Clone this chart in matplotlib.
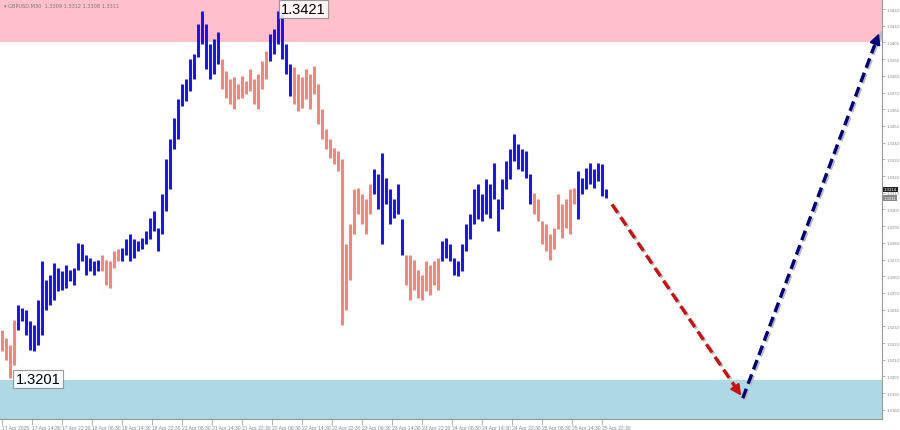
import numpy as np
import matplotlib
matplotlib.use("Agg")
import matplotlib.pyplot as plt

plt.rcParams["font.family"] = ["Liberation Sans", "DejaVu Sans"]

# Bar data (GBPUSD, one bar per slot, prices)
highs = [1.3230, 1.3225, 1.3221, 1.3236, 1.3245, 1.3243, 1.3242, 1.3235, 1.3233, 1.3248,
         1.3271, 1.3260, 1.3263, 1.3270, 1.3267, 1.3265, 1.3269, 1.3266, 1.3267, 1.3282,
         1.3281, 1.3275, 1.3273, 1.3271, 1.3272, 1.3275, 1.3272, 1.3271, 1.3277, 1.3278,
         1.3279, 1.3284, 1.3287, 1.3284, 1.3283, 1.3285, 1.3289, 1.3297, 1.3301, 1.3291,
         1.3311, 1.3332, 1.3344, 1.3357, 1.3368, 1.3377, 1.3380, 1.3392, 1.3395, 1.3413,
         1.3421, 1.3413, 1.3401, 1.3404, 1.3408, 1.3392, 1.3385, 1.3380, 1.3381, 1.3377,
         1.3382, 1.3379, 1.3386, 1.3380, 1.3383, 1.3391, 1.3397, 1.3407, 1.3410, 1.3421,
         1.3419, 1.3401, 1.3389, 1.3387, 1.3383, 1.3381, 1.3386, 1.3383, 1.3388, 1.3377,
         1.3362, 1.3350, 1.3344, 1.3339, 1.3337, 1.3332, 1.3281, 1.3293, 1.3314, 1.3315,
         1.3311, 1.3308, 1.3317, 1.3326, 1.3323, 1.3336, 1.3321, 1.3314, 1.3308, 1.3317,
         1.3296, 1.3275, 1.3275, 1.3272, 1.3266, 1.3263, 1.3271, 1.3269, 1.3271, 1.3273,
         1.3283, 1.3285, 1.3281, 1.3273, 1.3271, 1.3281, 1.3293, 1.3299, 1.3314, 1.3317,
         1.3311, 1.3320, 1.3317, 1.3330, 1.3308, 1.3320, 1.3331, 1.3338, 1.3347, 1.3341,
         1.3338, 1.3337, 1.3323, 1.3312, 1.3308, 1.3295, 1.3293, 1.3287, 1.3291, 1.3311,
         1.3305, 1.3308, 1.3314, 1.3315, 1.3325, 1.3321, 1.3327, 1.3330, 1.3326, 1.3330,
         1.3329, 1.3314]
lows = [1.3217, 1.3212, 1.3201, 1.3209, 1.3230, 1.3235, 1.3227, 1.3218, 1.3217, 1.3221,
        1.3227, 1.3242, 1.3245, 1.3248, 1.3253, 1.3254, 1.3255, 1.3259, 1.3257, 1.3266,
        1.3271, 1.3263, 1.3265, 1.3263, 1.3265, 1.3265, 1.3257, 1.3255, 1.3267, 1.3271,
        1.3271, 1.3275, 1.3271, 1.3273, 1.3277, 1.3278, 1.3281, 1.3284, 1.3289, 1.3277,
        1.3287, 1.3301, 1.3314, 1.3338, 1.3344, 1.3364, 1.3367, 1.3373, 1.3380, 1.3393,
        1.3401, 1.3386, 1.3380, 1.3383, 1.3389, 1.3374, 1.3369, 1.3365, 1.3362, 1.3368,
        1.3369, 1.3371, 1.3373, 1.3365, 1.3362, 1.3374, 1.3380, 1.3391, 1.3395, 1.3401,
        1.3392, 1.3383, 1.3370, 1.3365, 1.3361, 1.3363, 1.3368, 1.3362, 1.3371, 1.3353,
        1.3344, 1.3338, 1.3333, 1.3329, 1.3325, 1.3233, 1.3242, 1.3260, 1.3287, 1.3299,
        1.3293, 1.3287, 1.3299, 1.3311, 1.3302, 1.3281, 1.3305, 1.3293, 1.3297, 1.3299,
        1.3275, 1.3257, 1.3248, 1.3254, 1.3249, 1.3248, 1.3253, 1.3251, 1.3257, 1.3254,
        1.3271, 1.3273, 1.3271, 1.3263, 1.3262, 1.3265, 1.3277, 1.3284, 1.3293, 1.3296,
        1.3295, 1.3299, 1.3297, 1.3308, 1.3289, 1.3302, 1.3314, 1.3320, 1.3331, 1.3326,
        1.3325, 1.3321, 1.3305, 1.3299, 1.3295, 1.3281, 1.3277, 1.3272, 1.3278, 1.3290,
        1.3285, 1.3291, 1.3287, 1.3305, 1.3296, 1.3311, 1.3314, 1.3317, 1.3315, 1.3319,
        1.3310, 1.3309]
# s = salmon (wave down), b = blue (wave up)
bar_colors = ("ssss" + "b" * 21 + "s" * 5 + "b" * 25 + "s" * 12 + "b" * 6 +
              "s" * 20 + "b" * 8 + "s" * 9 + "b" * 23 + "s" * 11 + "b" * 8)

time_labels = ["17 Apr 2025", "17 Apr 14:30", "17 Apr 22:30", "18 Apr 06:30", "18 Apr 14:30",
               "18 Apr 22:30", "21 Apr 06:30", "21 Apr 14:30", "21 Apr 22:30", "22 Apr 06:30",
               "22 Apr 14:30", "22 Apr 22:30", "23 Apr 06:30", "23 Apr 14:30", "23 Apr 22:30",
               "24 Apr 06:30", "24 Apr 14:30", "24 Apr 22:30", "25 Apr 06:30", "25 Apr 14:30",
               "25 Apr 22:30"]

# resistance / support zones
zone_top = (1.3402, 1.3440)
zone_bottom = (1.3160, 1.3200)

# forecast path: start, bottom, target
wave_x = [152.5, 185.2, 219.5]
wave_y = [1.3305, 1.3189, 1.3409]

high_mark = (69, 1.3421)
low_mark = (2, 1.3201)

blue = "#1010FF"
salmon = "#FA8072"

fig = plt.figure(figsize=(9, 4.31), dpi=100)
ax = fig.add_axes([0.0, 1 - 420 / 431, 882 / 900, 420 / 431])

ax.set_xlim(-0.5, 220)
ax.set_ylim(1.31765, 1.3428)

ax.axhspan(zone_top[0], zone_top[1], color="#FFC0CB", zorder=0, lw=0)
ax.axhspan(zone_bottom[0], zone_bottom[1], color="#ADD8E6", zorder=0, lw=0)

x = np.arange(len(highs))
cols = [blue if c == "b" else salmon for c in bar_colors]
ax.vlines(x, lows, highs, colors=cols, linewidth=2.1, zorder=3)

# forecast arrows (with light shadow)
for (x0, y0, x1, y1, c) in [(wave_x[0], wave_y[0], wave_x[1], wave_y[1], "#CC1010"),
                            (wave_x[1], wave_y[1], wave_x[2], wave_y[2], "#00007A")]:
    ax.plot([x0 + 0.4, x1 + 0.4], [y0 - 0.00008, y1 - 0.00008], color="#BBBBBB",
            lw=2.4, ls=(0, (3, 1.6)), zorder=4)
    ax.plot([x0, x1 - (x1 - x0) * 0.04], [y0, y1 - (y1 - y0) * 0.04], color=c,
            lw=2.4, ls=(0, (3, 1.6)), zorder=5)
    ax.annotate("", xy=(x1, y1), xytext=(x1 - (x1 - x0) * 0.06, y1 - (y1 - y0) * 0.06),
                arrowprops=dict(arrowstyle="-|>", color=c, lw=1.5, mutation_scale=16),
                zorder=6)

box = dict(boxstyle="square,pad=0.15", fc="white", ec="#888888", lw=0.8, alpha=0.85)
ax.text(high_mark[0] + 0.8, high_mark[1] + 0.0001, f"{high_mark[1]:.4f}", fontsize=10.5,
        ha="left", va="center", bbox=box, zorder=7)
ax.text(low_mark[0] + 1.4, low_mark[1] - 0.00005, f"{low_mark[1]:.4f}", fontsize=10.5,
        ha="left", va="center", bbox=box, zorder=7)

# axes styling (terminal look)
for s in ["top", "left"]:
    ax.spines[s].set_visible(False)
for s in ["right", "bottom"]:
    ax.spines[s].set_color("#999999")
    ax.spines[s].set_linewidth(0.8)

ax.yaxis.tick_right()
yt = np.arange(1.3182, 1.3424, 0.001)
ax.set_yticks(yt)
ax.set_yticklabels([f"{v:.4f}" for v in yt])
ax.tick_params(axis="y", length=2, width=0.5, color="#999999", labelsize=3.1,
               labelcolor="#888888", pad=1)

ax.set_xticks([7.5 * k for k in range(len(time_labels))])
ax.set_xticklabels(time_labels)
ax.tick_params(axis="x", length=4, width=0.5, color="#999999", labelsize=3.6,
               labelcolor="#888888", pad=0.5)
for lab in ax.get_xticklabels():
    lab.set_horizontalalignment("left")

# current price labels
ax.text(1.002, 1.3314, "1.3314", transform=ax.get_yaxis_transform(), fontsize=3.1,
        color="white", va="center", ha="left",
        bbox=dict(boxstyle="square,pad=0.2", fc="#222222", ec="none"))
ax.text(1.002, 1.33088, "1.3311", transform=ax.get_yaxis_transform(), fontsize=3.1,
        color="white", va="center", ha="left",
        bbox=dict(boxstyle="square,pad=0.2", fc="#888888", ec="none"))

fig.text(0.004, 0.985, "\u25be GBPUSD,M30  1.3309 1.3312 1.3308 1.3311", fontsize=3.6,
         color="#777777", va="center", ha="left", family=["DejaVu Sans"])

fig.savefig("out.png", dpi=100)
